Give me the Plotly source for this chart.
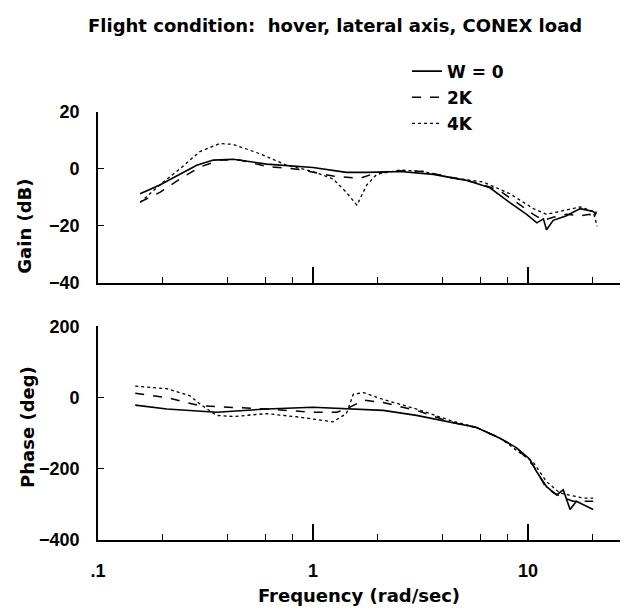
import plotly.graph_objects as go
import math

# ---------------- data ----------------
gain_w0_freq = [0.157, 0.194, 0.232, 0.288, 0.344, 0.426, 0.609, 1.0, 1.43, 1.78, 2.54, 3.63, 5.18, 6.65, 8.24, 9.86, 11.0, 11.8, 12.2, 13.1, 15.1, 17.5, 20.1, 20.8]
gain_w0 = [-8.8, -5.7, -2.6, 1.2, 3.0, 3.3, 1.6, 0.4, -1.3, -1.3, -1.0, -2.0, -4.1, -6.7, -11.9, -16.0, -19.0, -17.6, -21.4, -18.1, -16.5, -14.0, -15.0, -16.0]

gain_2k_freq = [0.157, 0.194, 0.241, 0.298, 0.369, 0.457, 0.609, 0.87, 1.24, 1.65, 1.91, 2.37, 3.26, 4.34, 5.98, 7.41, 9.18, 10.6, 11.8, 13.1, 15.1, 17.5, 19.4, 20.1, 20.8]
gain_2k = [-11.7, -8.3, -3.6, 0.6, 3.0, 3.0, 0.8, -0.3, -2.6, -3.4, -1.8, -0.7, -1.0, -3.1, -5.2, -7.8, -12.9, -16.0, -18.1, -17.0, -16.0, -16.5, -16.0, -18.0, -15.0]

gain_4k_freq = [0.157, 0.194, 0.241, 0.298, 0.369, 0.426, 0.567, 0.755, 1.0, 1.24, 1.43, 1.60, 1.78, 1.98, 2.54, 3.26, 4.34, 6.2, 8.24, 10.6, 12.2, 14.1, 17.5, 20.1, 21.0]
gain_4k = [-11.9, -5.7, 0.0, 6.0, 8.8, 8.5, 5.2, 1.2, -1.0, -3.6, -8.3, -12.8, -5.7, -2.0, -0.5, -1.0, -3.1, -4.7, -8.8, -14.0, -16.0, -15.0, -13.4, -15.0, -20.2]

phase_w0_freq = [0.149, 0.209, 0.356, 0.609, 1.0, 1.49, 2.12, 3.03, 4.34, 5.77, 7.41, 8.86, 10.2, 11.0, 12.2, 13.6, 14.6, 15.7, 16.8, 18.1, 20.1]
phase_w0 = [-21, -32, -41, -32, -27, -32, -36, -50, -68, -84, -114, -141, -173, -209, -250, -273, -259, -314, -291, -300, -314]

phase_2k_freq = [0.149, 0.209, 0.298, 0.426, 0.609, 1.0, 1.29, 1.43, 1.72, 2.12, 3.03, 4.34, 5.77, 7.41, 8.86, 10.6, 12.2, 14.1, 16.2, 18.7, 20.1]
phase_2k = [12, 0, -23, -27, -32, -41, -41, -32, -7, -14, -36, -68, -84, -114, -141, -191, -255, -277, -291, -291, -291]

phase_4k_freq = [0.149, 0.209, 0.268, 0.298, 0.356, 0.426, 0.609, 0.87, 1.24, 1.43, 1.54, 1.72, 2.12, 3.03, 4.34, 5.77, 7.41, 10.6, 12.2, 14.1, 18.1, 20.1]
phase_4k = [32, 25, 5, -18, -50, -53, -45, -55, -68, -45, 9, 14, -5, -32, -64, -84, -114, -182, -236, -268, -282, -282]

series_names = ["W = 0", "2K", "4K"]
x_major_ticks = [0.1, 1, 10]
x_major_text = [".1", "1", "10"]
x_minor_ticks = [0.2, 0.4, 0.6, 0.8, 2, 4, 6, 8, 20]
gain_ticks = [-40, -20, 0, 20]
phase_ticks = [-400, -200, 0, 200]

# ---------------- figure ----------------
TICKFONT = "Liberation Sans, Arial, Helvetica, sans-serif"
TEXTFONT = "DejaVu Sans, Liberation Sans, Arial, sans-serif"
W, H = 625, 613
ML, MR = 98, 5

styles = [dict(dash="solid", width=1.6), dict(dash="dash", width=1.5), dict(dash="dot", width=1.3)]

fig = go.Figure()
gains = [(gain_w0_freq, gain_w0), (gain_2k_freq, gain_2k), (gain_4k_freq, gain_4k)]
phases = [(phase_w0_freq, phase_w0), (phase_2k_freq, phase_2k), (phase_4k_freq, phase_4k)]
for i, name in enumerate(series_names):
    fx, fy = gains[i]
    fig.add_trace(go.Scatter(x=fx, y=fy, mode="lines", name=name, legendgroup=name,
                             line=dict(color="black", **styles[i]), xaxis="x", yaxis="y"))
for i, name in enumerate(series_names):
    fx, fy = phases[i]
    fig.add_trace(go.Scatter(x=fx, y=fy, mode="lines", name=name, legendgroup=name, showlegend=False,
                             line=dict(color="black", **styles[i]), xaxis="x2", yaxis="y2"))

def ydom(top_px, bot_px):
    return [1 - bot_px / H, 1 - top_px / H]

tickfont = dict(size=18, family=TICKFONT, color="black", weight="bold")
xr = [-1, math.log10(26.8)]
common_x = dict(type="log", range=xr, showline=True, linecolor="black", linewidth=2,
                ticks="inside", tickvals=x_major_ticks, ticktext=x_major_text, ticklen=16,
                tickwidth=1.5, tickcolor="black", showgrid=False, zeroline=False,
                minor=dict(tickmode="array", tickvals=x_minor_ticks, ticks="inside", ticklen=6,
                           tickwidth=1.3, tickcolor="black", showgrid=False),
                domain=[0, 1])
common_y = dict(showline=True, linecolor="black", linewidth=1.6, ticks="inside", ticklen=6,
                tickwidth=1.3, tickcolor="black", showgrid=False, zeroline=False,
                tickfont=tickfont, ticklabelstandoff=13)

fig.update_layout(
    width=W, height=H,
    margin=dict(l=ML, r=MR, t=0, b=0),
    paper_bgcolor="white", plot_bgcolor="white",
    font=dict(family=TEXTFONT, size=17, color="black", weight="bold"),
    xaxis=dict(**common_x, anchor="y", showticklabels=False),
    yaxis=dict(**common_y, range=[-40, 20], tickvals=gain_ticks, domain=ydom(105, 282), anchor="x"),
    xaxis2=dict(**common_x, anchor="y2", showticklabels=True, tickfont=tickfont,
                ticklabelstandoff=13,
                title=dict(text="Frequency (rad/sec)", font=dict(size=18, family=TEXTFONT, color="black", weight="bold"),
                           standoff=10)),
    yaxis2=dict(**common_y, range=[-400, 200], tickvals=phase_ticks, domain=ydom(327, 548), anchor="x2"),
    showlegend=True,
    legend=dict(x=(407 - ML) / (W - ML - MR), y=1 - 45 / H, xanchor="left", yanchor="top",
                bgcolor="rgba(0,0,0,0)", tracegroupgap=1,
                font=dict(size=17, family=TEXTFONT, color="black", weight="bold")),
)

pw = W - ML - MR
fig.add_annotation(text="Flight condition:  hover, lateral axis, CONEX load", xref="paper", yref="paper",
                   x=(335 - ML) / pw, y=1 - 16 / H, xanchor="center", yanchor="middle", showarrow=False,
                   font=dict(size=18, family=TEXTFONT, color="black", weight="bold"))
fig.add_annotation(text="Gain (dB)", xref="paper", yref="paper", x=(25 - ML) / pw, y=1 - 224 / H,
                   xanchor="center", yanchor="middle", textangle=-90, showarrow=False,
                   font=dict(size=18, family=TEXTFONT, color="black", weight="bold"))
fig.add_annotation(text="Phase (deg)", xref="paper", yref="paper", x=(28 - ML) / pw, y=1 - 431 / H,
                   xanchor="center", yanchor="middle", textangle=-90, showarrow=False,
                   font=dict(size=18, family=TEXTFONT, color="black", weight="bold"))

fig.write_html("out.html")
